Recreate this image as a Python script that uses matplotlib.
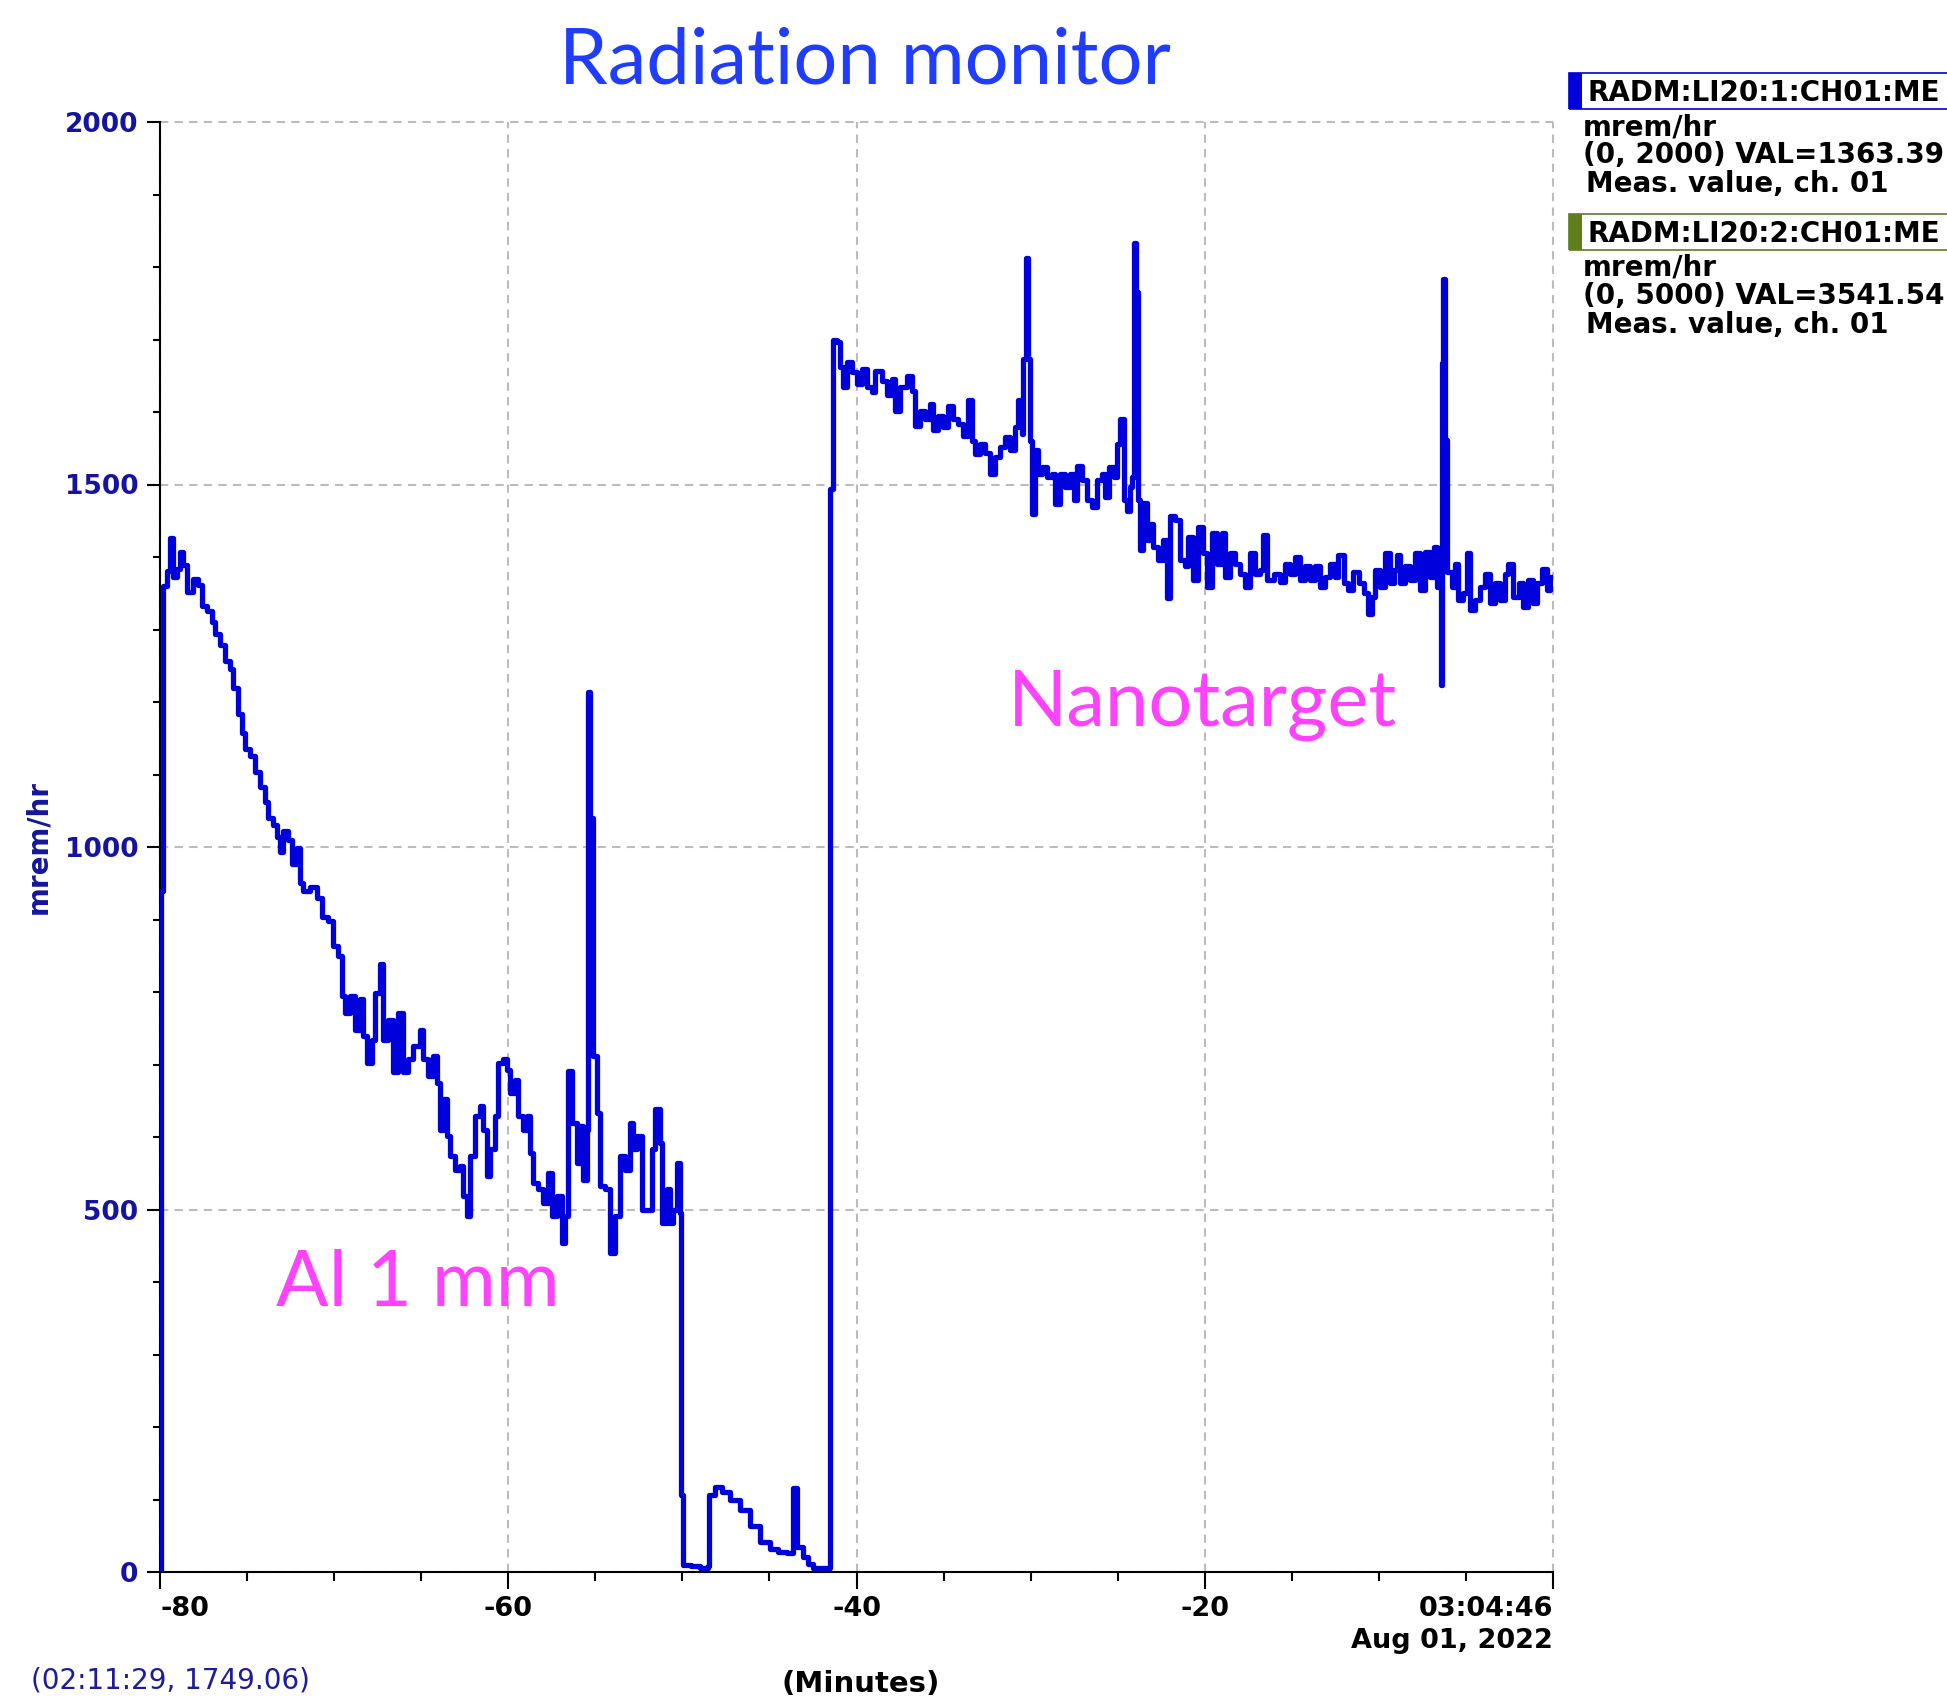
import matplotlib
matplotlib.use("Agg")
import matplotlib.pyplot as plt
from matplotlib.patches import Rectangle
from matplotlib.ticker import MultipleLocator

W, H = 1947, 1700

# minutes before 03:04:46 and dose rate (mrem/hr)
minutes = [
    -80.00, -79.95, -79.85, -79.62, -79.43, -79.23, -79.04, -78.85, -78.66, -78.47,
    -78.09, -77.80, -77.61, -77.32, -77.03, -76.84, -76.55, -76.27, -75.98, -75.79,
    -75.50, -75.31, -75.12, -74.83, -74.54, -74.26, -73.97, -73.78, -73.49, -73.30,
    -73.11, -72.92, -72.63, -72.44, -72.15, -71.96, -71.77, -71.38, -71.00, -70.71,
    -70.33,
    -70.05, -69.76, -69.57, -69.38, -69.09, -68.81, -68.52, -68.33, -68.14, -67.85,
    -67.66, -67.37, -67.18, -66.89, -66.61, -66.32, -66.03, -65.74, -65.46, -65.07,
    -64.88, -64.60, -64.31, -64.12, -63.92, -63.73, -63.54, -63.35, -63.06, -62.78,
    -62.58, -62.39, -62.20, -61.91, -61.63, -61.44, -61.24, -61.05, -60.77, -60.57,
    -60.29, -60.10, -59.90, -59.62, -59.43, -59.14, -58.95, -58.76, -58.56, -58.28,
    -57.99, -57.70, -57.51, -57.22, -56.94, -56.75, -56.55, -56.36, -56.08, -55.88,
    -55.69, -55.50, -55.42, -55.30, -55.12, -54.93, -54.73, -54.45, -54.16, -53.87,
    -53.59, -53.30, -53.01, -52.82, -52.63, -52.34, -52.05, -51.77, -51.58, -51.29,
    -51.19, -50.91, -50.71, -50.52, -50.33, -50.14,
    -50.08, -49.95, -49.50, -49.00, -48.55, -48.45, -48.12, -47.70, -47.26, -46.69,
    -46.11, -45.54, -44.96, -44.50, -44.00, -43.62, -43.40, -43.05, -42.76, -42.47,
    -42.00, -41.60,
    -41.52, -41.33, -41.14, -40.95, -40.76, -40.57, -40.28, -39.99, -39.71, -39.42,
    -39.13, -38.94, -38.56, -38.27, -37.98, -37.79, -37.51, -37.12, -36.84, -36.64,
    -36.36, -36.07, -35.78, -35.59, -35.30, -35.01, -34.73, -34.44, -34.15, -33.86,
    -33.58, -33.39, -33.19, -32.91, -32.62, -32.33, -32.04, -31.76, -31.47, -31.18,
    -30.89, -30.70, -30.51, -30.41, -30.25, -30.15, -30.03, -29.93, -29.74, -29.55,
    -29.36, -29.07, -28.78, -28.59, -28.30, -28.01, -27.73, -27.53, -27.34, -27.05,
    -26.76, -26.48, -26.19, -25.90, -25.71, -25.52, -25.23, -25.04, -24.85, -24.65,
    -24.46, -24.27, -24.15, -24.09, -23.95, -23.81, -23.71,
    -23.52, -23.33, -23.14, -22.95, -22.66, -22.37, -22.18, -21.99, -21.70, -21.41,
    -21.13, -20.94, -20.65, -20.36, -20.08, -19.88, -19.60, -19.31, -19.02, -18.83,
    -18.54, -18.26, -17.97, -17.68, -17.39, -17.11, -16.82, -16.63, -16.44, -16.05,
    -15.67, -15.38, -15.10, -14.81, -14.52, -14.24, -13.95, -13.66, -13.37, -13.09,
    -12.80, -12.51, -12.32, -12.03, -11.75, -11.46, -11.17, -10.88, -10.60, -10.41,
    -10.21, -9.93, -9.64, -9.35, -9.16, -8.97, -8.78, -8.49, -8.20, -7.92,
    -7.63, -7.34, -7.06, -6.86, -6.67, -6.50, -6.46, -6.40, -6.33, -6.22,
    -6.10, -5.81, -5.62, -5.43, -5.14, -4.95, -4.76, -4.47, -4.18, -3.90,
    -3.61, -3.32, -3.03, -2.75, -2.56, -2.27, -1.98, -1.70, -1.41, -1.12,
    -0.93, -0.64, -0.35, -0.16, 0.00,
]
rate = [
    0, 940, 1360, 1381, 1426, 1373, 1384, 1407, 1389, 1352,
    1370, 1362, 1333, 1325, 1310, 1294, 1278, 1257, 1246, 1220,
    1183, 1157, 1135, 1125, 1104, 1083, 1062, 1040, 1030, 1014,
    993, 1022, 1009, 977, 998, 951, 940, 945, 930, 903,
    898,
    863, 849, 794, 771, 794, 748, 790, 739, 702, 734,
    799, 838, 734, 762, 689, 771, 689, 707, 725, 748,
    707, 684, 712, 675, 610, 652, 601, 574, 555, 560,
    518, 491, 574, 629, 643, 610, 546, 583, 629, 702,
    707, 693, 661, 679, 629, 610, 629, 578, 537, 528,
    509, 551, 491, 518, 454, 491, 691, 620, 564, 615,
    541, 610, 1214, 1040, 712, 633, 532, 528, 440, 491,
    574, 555, 620, 583, 601, 500, 500, 583, 638, 592,
    482, 528, 482, 500, 564, 495,
    106, 10, 8, 6, 8, 106, 117, 110, 100, 85,
    63, 42, 32, 28, 26, 116, 35, 21, 11, 5,
    5, 5,
    1494, 1699, 1697, 1662, 1634, 1669, 1655, 1639, 1660, 1634,
    1627, 1657, 1643, 1623, 1646, 1602, 1634, 1650, 1629, 1581,
    1602, 1590, 1611, 1575, 1595, 1579, 1608, 1590, 1583, 1567,
    1616, 1560, 1542, 1556, 1544, 1515, 1538, 1552, 1565, 1547,
    1579, 1616, 1570, 1673, 1813, 1673, 1560, 1459, 1547, 1515,
    1524, 1510, 1515, 1473, 1515, 1496, 1515, 1478, 1526, 1506,
    1478, 1469, 1506, 1515, 1483, 1524, 1510, 1556, 1590, 1478,
    1464, 1496, 1510, 1833, 1766, 1479, 1410,
    1474, 1423, 1446, 1414, 1396, 1423, 1343, 1456, 1451, 1396,
    1387, 1428, 1368, 1442, 1405, 1359, 1433, 1391, 1433, 1373,
    1405, 1391, 1377, 1359, 1405, 1377, 1382, 1430, 1368, 1377,
    1366, 1391, 1377, 1400, 1368, 1387, 1368, 1387, 1359, 1373,
    1391, 1373, 1403, 1364, 1354, 1380, 1364, 1350, 1322, 1345,
    1382, 1359, 1405, 1364, 1382, 1403, 1364, 1387, 1368, 1405,
    1354, 1407, 1373, 1414, 1359, 1380, 1223, 1667, 1784, 1561,
    1380, 1359, 1391, 1341, 1350, 1405, 1327, 1341, 1359, 1377,
    1336, 1364, 1341, 1377, 1391, 1345, 1364, 1331, 1368, 1336,
    1364, 1384, 1354, 1373, 1363,
]

x_ticks = [-80, -60, -40, -20, 0]
x_labels = ["-80", "-60", "-40", "-20", "03:04:46\nAug 01, 2022"]
y_ticks = [0, 500, 1000, 1500, 2000]

legend_rows = [
    ("RADM:LI20:1:CH01:ME", "mrem/hr", "(0, 2000) VAL=1363.39", "Meas. value, ch. 01"),
    ("RADM:LI20:2:CH01:ME", "mrem/hr", "(0, 5000) VAL=3541.54", "Meas. value, ch. 01"),
]
legend_colors = ["#0000dc", "#5e7f1c"]

LINE = "#0000dc"
TICKBLUE = "#1414a0"
PINK = "#ff42ff"


def px(x, y):
    # full-size pixel position -> figure fraction
    return x / W, 1 - y / H


fig = plt.figure(figsize=(W / 100, H / 100), dpi=100)
ax = fig.add_axes([160 / W, 1 - 1572 / H, (1553 - 160) / W, (1572 - 122) / H])

ax.plot(minutes, rate, drawstyle="steps-post", color=LINE, lw=3.8, zorder=3)

ax.set_xlim(-80, 0)
ax.set_ylim(0, 2000)
ax.set_xticks(x_ticks)
ax.set_xticklabels(x_labels)
ax.set_yticks(y_ticks)
ax.xaxis.set_minor_locator(MultipleLocator(5))
ax.yaxis.set_minor_locator(MultipleLocator(100))

ax.set_axisbelow(True)
ax.grid(True, which="major", color="#bcbcbc", linestyle=(0, (4, 3)), lw=1.5)
for gl in ax.get_xgridlines() + ax.get_ygridlines():
    gl.set_clip_on(False)

for s in ("top", "right"):
    ax.spines[s].set_visible(False)
for s in ("left", "bottom"):
    ax.spines[s].set_linewidth(1.5)

ax.tick_params(axis="x", which="major", length=12.5, width=1.5, pad=5)
ax.tick_params(axis="x", which="minor", length=6.5, width=1.5)
ax.tick_params(axis="y", which="major", length=9.5, width=1.5, pad=6, labelcolor=TICKBLUE)
ax.tick_params(axis="y", which="minor", length=5, width=1.5)

for lab in ax.get_xticklabels():
    lab.set_fontfamily("DejaVu Sans")
    lab.set_fontweight("bold")
    lab.set_fontsize(19.5)
xl = ax.get_xticklabels()
xl[0].set_ha("left")
xl[-1].set_ha("right")
xl[-1].set_multialignment("right")
xl[-1].set_linespacing(1.3)

for lab in ax.get_yticklabels():
    lab.set_fontfamily("DejaVu Sans")
    lab.set_fontweight("bold")
    lab.set_fontsize(19)

ax.set_ylabel("mrem/hr", color=TICKBLUE, fontsize=20, fontweight="bold")
ax.yaxis.set_label_coords(-0.0775, 0.5)

# big annotations
fig.text(*px(865, 83), "Radiation monitor", ha="center", va="baseline",
         fontsize=56, family="Lato", color="#1f3cff")
fig.text(*px(1008, 726), "Nanotarget", ha="left", va="baseline",
         fontsize=56, family="Lato", color=PINK)
fig.text(*px(276, 1306), "Al 1 mm", ha="left", va="baseline",
         fontsize=56, family="Lato", color=PINK)

# cursor readout and axis title at the bottom
fig.text(*px(31, 1680), "(02:11:29, 1749.06)", ha="left", va="center",
         fontsize=20, family="DejaVu Sans", color="#1c1c9c")
fig.text(*px(861, 1670), "(Minutes)", ha="center", va="top",
         fontsize=21, family="DejaVu Sans", fontweight="bold", color="black")

# channel legend at the top right
box_tops = [73, 214]
for (name, unit, rng, desc), col, top in zip(legend_rows, legend_colors, box_tops):
    x0, y0 = px(1569, top + 36)
    fig.add_artist(Rectangle((x0, y0), (W - 1569 + 20) / W, 36 / H,
                             transform=fig.transFigure, fill=False,
                             edgecolor=col, lw=1.2, clip_on=False))
    fig.add_artist(Rectangle((x0, y0), 13 / W, 36 / H,
                             transform=fig.transFigure, facecolor=col,
                             edgecolor="none"))
    kw = dict(ha="left", va="baseline", fontsize=20, family="DejaVu Sans",
              fontweight="bold", color="black")
    fig.text(*px(1588, top + 28), name, **kw)
    fig.text(*px(1583, top + 62), unit, **kw)
    fig.text(*px(1583, top + 90), rng, **kw)
    fig.text(*px(1586, top + 119), desc, **kw)

fig.savefig("out.png", dpi=100, facecolor="white")
